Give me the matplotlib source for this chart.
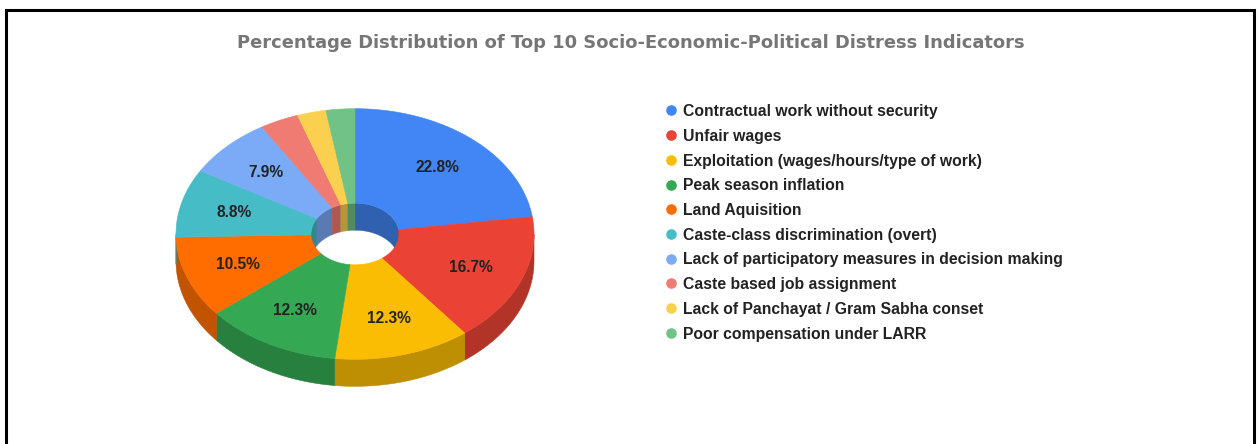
import numpy as np
import matplotlib
matplotlib.use("Agg")
import matplotlib.pyplot as plt
from matplotlib.patches import Polygon, Rectangle
from matplotlib.colors import to_rgb

plt.rcParams['font.family'] = ['Liberation Sans', 'DejaVu Sans']

# ---- data -------------------------------------------------------------
categories = [
    "Contractual work without security",
    "Unfair wages",
    "Exploitation (wages/hours/type of work)",
    "Peak season inflation",
    "Land Aquisition",
    "Caste-class discrimination (overt)",
    "Lack of participatory measures in decision making",
    "Caste based job assignment",
    "Lack of Panchayat / Gram Sabha conset",
    "Poor compensation under LARR",
]
shares = [22.8, 16.7, 12.3, 12.3, 10.5, 8.8, 7.9, 3.5, 2.6, 2.6]
colors = ["#4285F4", "#EA4335", "#FBBC04", "#34A853", "#FF6D01",
          "#46BDC6", "#7BAAF7", "#F07B72", "#FCD04F", "#71C287"]
title = "Percentage Distribution of Top 10 Socio-Economic-Political Distress Indicators"

# ---- figure -----------------------------------------------------------
W, H, DPI = 1259, 444, 100
fig = plt.figure(figsize=(W / DPI, H / DPI), dpi=DPI)
fig.patch.set_facecolor("white")

# pie geometry, in units of the outer radius
TILT = 0.70       # vertical squash of the tilted disc
DEPTH = 0.151     # thickness of the disc
R_IN = 0.246      # hole radius
R_OUT = 1.0
LABEL_R = 0.70
SCALE = 179.0     # pixels per unit radius
CX, CY = 355, 234  # pie centre (pixels from top-left)

ax_l, ax_r, ax_t, ax_b = 150, 560, 90, 400
ax = fig.add_axes([ax_l / W, 1 - ax_b / H, (ax_r - ax_l) / W, (ax_b - ax_t) / H])
ax.set_xlim(-(CX - ax_l) / SCALE, (ax_r - CX) / SCALE)
ax.set_ylim(-(ax_b - CY) / SCALE, (CY - ax_t) / SCALE)
ax.axis("off")


def proj(r, t, drop=0.0):
    """Project polar (r, t clockwise from 12 o'clock) onto the tilted disc."""
    return r * np.sin(t), TILT * r * np.cos(t) - drop


def shade(c, f=0.76):
    return tuple(np.array(to_rgb(c)) * f)


vals = np.asarray(shares, dtype=float)
edges = np.concatenate([[0.0], np.cumsum(vals)]) / vals.sum() * 360.0


def clip(a0, a1, lo, hi):
    s, e = max(a0, lo), min(a1, hi)
    return (s, e) if e > s else None


for i, col in enumerate(colors):
    a0, a1 = edges[i], edges[i + 1]

    # outer rim, visible on the front half of the disc
    seg = clip(a0, a1, 90.0, 270.0)
    if seg:
        t = np.radians(np.linspace(seg[0], seg[1], 80))
        x, y = proj(R_OUT, t)
        xb, yb = proj(R_OUT, t, DEPTH)
        pts = np.column_stack([np.r_[x, xb[::-1]], np.r_[y, yb[::-1]]])
        ax.add_patch(Polygon(pts, closed=True, fc=shade(col), ec=shade(col), lw=0.4, zorder=1))

    # inner wall of the hole, visible on the back half
    for lo, hi in ((0.0, 90.0), (270.0, 360.0)):
        seg = clip(a0, a1, lo, hi)
        if seg:
            t = np.radians(np.linspace(seg[0], seg[1], 60))
            x, y = proj(R_IN, t)
            xb, yb = proj(R_IN, t, DEPTH)
            pts = np.column_stack([np.r_[x, xb[::-1]], np.r_[y, yb[::-1]]])
            ax.add_patch(Polygon(pts, closed=True, fc=shade(col, 0.72), ec=shade(col, 0.72), lw=0.3, zorder=1))

    # top face of the slice
    t = np.radians(np.linspace(a0, a1, 120))
    xo, yo = proj(R_OUT, t)
    xi, yi = proj(R_IN, t[::-1])
    pts = np.column_stack([np.r_[xo, xi], np.r_[yo, yi]])
    ax.add_patch(Polygon(pts, closed=True, fc=col, ec=col, lw=0.4, zorder=2))

    # percentage label
    if vals[i] >= 5:
        tm = np.radians((a0 + a1) / 2)
        lx, ly = proj(LABEL_R, tm)
        ax.text(lx, ly, f"{vals[i]:.1f}%", ha="center", va="center",
                fontsize=11.2, fontweight="bold", color="#222222", zorder=3)

# ---- title ------------------------------------------------------------
fig.text(631 / W, 1 - 43 / H, title, ha="center", va="center",
         fontsize=12.85, fontweight="bold", color="#767676",
         family=["DejaVu Sans"])

# ---- legend -----------------------------------------------------------
leg_x_dot, leg_x_txt, leg_y0, leg_dy = 670.5, 683, 111.7, 24.7
for i, (name, col) in enumerate(zip(categories, colors)):
    yy = 1 - (leg_y0 + i * leg_dy) / H
    fig.lines.append(plt.Line2D([leg_x_dot / W], [yy + 1.2 / H], marker="o", ms=6.6,
                                mfc=col, mec=col, transform=fig.transFigure))
    fig.text(leg_x_txt / W, yy, name, ha="left", va="center",
             fontsize=11.3, fontweight="bold", color="#222222")

# ---- frame ------------------------------------------------------------
fig.patches.append(Rectangle((6 / W, -0.05), (1254 - 6) / W, 1.05 - 10 / H,
                             transform=fig.transFigure, fill=False,
                             ec="black", lw=2.2))

fig.savefig("out.png", dpi=DPI, facecolor="white")
